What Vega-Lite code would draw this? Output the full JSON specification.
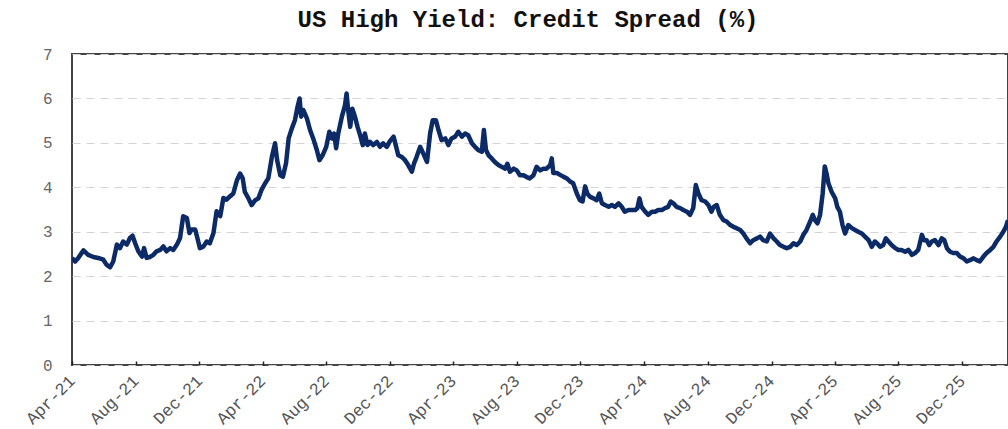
{
  "$schema": "https://vega.github.io/schema/vega-lite/v6.json",
  "width": 936,
  "height": 311,
  "autosize": {"type": "none"},
  "padding": {"left": 72, "top": 54, "right": 0, "bottom": 64},
  "background": "white",
  "title": {
    "text": "US High Yield: Credit Spread (%)",
    "font": "Liberation Mono",
    "fontWeight": "bold",
    "fontSize": 24,
    "color": "#111111",
    "anchor": "middle",
    "dx": -12,
    "offset": 14
  },
  "config": {
    "view": {"stroke": "#444444", "strokeWidth": 2},
    "axis": {"labelFont": "Liberation Mono", "labelColor": "#666666"}
  },
  "data": {"values": [
    {"d":"2021-04-01","v":2.41},{"d":"2021-04-07","v":2.33},{"d":"2021-04-13","v":2.41},{"d":"2021-04-23","v":2.58},
    {"d":"2021-05-02","v":2.48},{"d":"2021-05-12","v":2.43},{"d":"2021-05-21","v":2.41},{"d":"2021-05-31","v":2.37},
    {"d":"2021-06-06","v":2.26},{"d":"2021-06-13","v":2.2},{"d":"2021-06-19","v":2.33},{"d":"2021-06-26","v":2.71},
    {"d":"2021-07-02","v":2.63},{"d":"2021-07-08","v":2.78},{"d":"2021-07-15","v":2.71},{"d":"2021-07-21","v":2.86},
    {"d":"2021-07-26","v":2.91},{"d":"2021-07-31","v":2.74},{"d":"2021-08-06","v":2.56},{"d":"2021-08-13","v":2.44},
    {"d":"2021-08-17","v":2.63},{"d":"2021-08-22","v":2.41},{"d":"2021-08-28","v":2.43},{"d":"2021-09-04","v":2.48},
    {"d":"2021-09-10","v":2.56},{"d":"2021-09-17","v":2.59},{"d":"2021-09-23","v":2.67},{"d":"2021-09-29","v":2.56},
    {"d":"2021-10-06","v":2.63},{"d":"2021-10-12","v":2.59},{"d":"2021-10-19","v":2.71},{"d":"2021-10-25","v":2.86},
    {"d":"2021-10-31","v":3.35},{"d":"2021-11-07","v":3.31},{"d":"2021-11-12","v":2.97},{"d":"2021-11-16","v":3.05},
    {"d":"2021-11-23","v":3.05},{"d":"2021-11-28","v":2.82},{"d":"2021-12-02","v":2.63},{"d":"2021-12-09","v":2.67},
    {"d":"2021-12-15","v":2.78},{"d":"2021-12-21","v":2.74},{"d":"2021-12-28","v":2.97},{"d":"2022-01-03","v":3.46},
    {"d":"2022-01-10","v":3.35},{"d":"2022-01-16","v":3.76},{"d":"2022-01-22","v":3.72},{"d":"2022-01-29","v":3.8},
    {"d":"2022-02-04","v":3.86},{"d":"2022-02-11","v":4.16},{"d":"2022-02-17","v":4.31},{"d":"2022-02-22","v":4.2},
    {"d":"2022-02-26","v":3.9},{"d":"2022-03-05","v":3.75},{"d":"2022-03-11","v":3.6},{"d":"2022-03-18","v":3.71},
    {"d":"2022-03-24","v":3.75},{"d":"2022-03-30","v":3.94},{"d":"2022-04-06","v":4.09},{"d":"2022-04-12","v":4.2},
    {"d":"2022-04-19","v":4.69},{"d":"2022-04-25","v":4.99},{"d":"2022-04-29","v":4.61},{"d":"2022-05-05","v":4.27},
    {"d":"2022-05-10","v":4.24},{"d":"2022-05-16","v":4.54},{"d":"2022-05-21","v":5.1},{"d":"2022-05-27","v":5.32},
    {"d":"2022-06-02","v":5.51},{"d":"2022-06-07","v":5.81},{"d":"2022-06-11","v":6.0},{"d":"2022-06-14","v":5.59},
    {"d":"2022-06-18","v":5.74},{"d":"2022-06-25","v":5.55},{"d":"2022-07-01","v":5.29},{"d":"2022-07-07","v":5.1},
    {"d":"2022-07-14","v":4.84},{"d":"2022-07-19","v":4.61},{"d":"2022-07-25","v":4.72},{"d":"2022-08-01","v":4.91},
    {"d":"2022-08-07","v":5.25},{"d":"2022-08-12","v":5.1},{"d":"2022-08-16","v":5.21},{"d":"2022-08-20","v":4.88},
    {"d":"2022-08-24","v":5.21},{"d":"2022-08-31","v":5.59},{"d":"2022-09-06","v":5.85},{"d":"2022-09-09","v":6.11},
    {"d":"2022-09-12","v":5.74},{"d":"2022-09-16","v":5.36},{"d":"2022-09-20","v":5.77},{"d":"2022-09-25","v":5.59},
    {"d":"2022-09-30","v":5.36},{"d":"2022-10-05","v":5.17},{"d":"2022-10-10","v":4.95},{"d":"2022-10-14","v":5.21},
    {"d":"2022-10-19","v":4.95},{"d":"2022-10-24","v":5.02},{"d":"2022-10-30","v":4.95},{"d":"2022-11-06","v":5.02},
    {"d":"2022-11-12","v":4.91},{"d":"2022-11-18","v":4.99},{"d":"2022-11-25","v":4.91},{"d":"2022-12-01","v":5.04},
    {"d":"2022-12-08","v":5.14},{"d":"2022-12-13","v":4.91},{"d":"2022-12-17","v":4.72},{"d":"2022-12-24","v":4.68},
    {"d":"2022-12-30","v":4.61},{"d":"2023-01-05","v":4.5},{"d":"2023-01-12","v":4.35},{"d":"2023-01-16","v":4.53},
    {"d":"2023-01-21","v":4.68},{"d":"2023-01-28","v":4.91},{"d":"2023-02-03","v":4.76},{"d":"2023-02-10","v":4.57},
    {"d":"2023-02-16","v":5.21},{"d":"2023-02-21","v":5.51},{"d":"2023-02-27","v":5.51},{"d":"2023-03-04","v":5.29},
    {"d":"2023-03-10","v":5.06},{"d":"2023-03-17","v":5.1},{"d":"2023-03-23","v":4.95},{"d":"2023-03-29","v":5.1},
    {"d":"2023-04-05","v":5.14},{"d":"2023-04-11","v":5.25},{"d":"2023-04-18","v":5.14},{"d":"2023-04-24","v":5.21},
    {"d":"2023-04-30","v":5.17},{"d":"2023-05-07","v":4.99},{"d":"2023-05-13","v":4.91},{"d":"2023-05-19","v":4.84},
    {"d":"2023-05-26","v":4.8},{"d":"2023-05-30","v":5.29},{"d":"2023-06-03","v":4.84},{"d":"2023-06-08","v":4.72},
    {"d":"2023-06-14","v":4.65},{"d":"2023-06-20","v":4.57},{"d":"2023-06-27","v":4.5},{"d":"2023-07-03","v":4.46},
    {"d":"2023-07-10","v":4.42},{"d":"2023-07-14","v":4.53},{"d":"2023-07-19","v":4.35},{"d":"2023-07-26","v":4.42},
    {"d":"2023-08-01","v":4.38},{"d":"2023-08-07","v":4.27},{"d":"2023-08-14","v":4.27},{"d":"2023-08-20","v":4.23},
    {"d":"2023-08-26","v":4.2},{"d":"2023-09-02","v":4.27},{"d":"2023-09-08","v":4.46},{"d":"2023-09-15","v":4.38},
    {"d":"2023-09-21","v":4.42},{"d":"2023-09-27","v":4.42},{"d":"2023-10-04","v":4.5},{"d":"2023-10-07","v":4.65},
    {"d":"2023-10-10","v":4.32},{"d":"2023-10-17","v":4.32},{"d":"2023-10-23","v":4.28},{"d":"2023-10-29","v":4.24},
    {"d":"2023-11-05","v":4.2},{"d":"2023-11-11","v":4.13},{"d":"2023-11-17","v":4.09},{"d":"2023-11-24","v":3.86},
    {"d":"2023-11-30","v":3.71},{"d":"2023-12-05","v":3.68},{"d":"2023-12-10","v":4.02},{"d":"2023-12-14","v":3.86},
    {"d":"2023-12-19","v":3.79},{"d":"2023-12-26","v":3.75},{"d":"2024-01-01","v":3.71},{"d":"2024-01-06","v":3.86},
    {"d":"2024-01-11","v":3.64},{"d":"2024-01-17","v":3.6},{"d":"2024-01-24","v":3.56},{"d":"2024-01-30","v":3.6},
    {"d":"2024-02-05","v":3.56},{"d":"2024-02-12","v":3.64},{"d":"2024-02-18","v":3.56},{"d":"2024-02-24","v":3.45},
    {"d":"2024-03-02","v":3.49},{"d":"2024-03-08","v":3.49},{"d":"2024-03-15","v":3.49},{"d":"2024-03-19","v":3.53},
    {"d":"2024-03-23","v":3.75},{"d":"2024-03-27","v":3.56},{"d":"2024-04-03","v":3.45},{"d":"2024-04-09","v":3.38},
    {"d":"2024-04-16","v":3.45},{"d":"2024-04-22","v":3.45},{"d":"2024-04-28","v":3.49},{"d":"2024-05-05","v":3.49},
    {"d":"2024-05-11","v":3.53},{"d":"2024-05-17","v":3.56},{"d":"2024-05-22","v":3.68},{"d":"2024-05-27","v":3.64},
    {"d":"2024-06-02","v":3.56},{"d":"2024-06-09","v":3.53},{"d":"2024-06-15","v":3.49},{"d":"2024-06-22","v":3.45},
    {"d":"2024-06-28","v":3.38},{"d":"2024-07-04","v":3.53},{"d":"2024-07-09","v":4.05},{"d":"2024-07-14","v":3.86},
    {"d":"2024-07-20","v":3.71},{"d":"2024-07-27","v":3.68},{"d":"2024-08-02","v":3.6},{"d":"2024-08-08","v":3.45},
    {"d":"2024-08-12","v":3.56},{"d":"2024-08-18","v":3.6},{"d":"2024-08-24","v":3.38},{"d":"2024-08-31","v":3.26},
    {"d":"2024-09-06","v":3.23},{"d":"2024-09-13","v":3.15},{"d":"2024-09-19","v":3.11},{"d":"2024-09-25","v":3.08},
    {"d":"2024-10-02","v":3.04},{"d":"2024-10-08","v":2.96},{"d":"2024-10-14","v":2.85},{"d":"2024-10-21","v":2.74},
    {"d":"2024-10-27","v":2.81},{"d":"2024-11-03","v":2.85},{"d":"2024-11-09","v":2.89},{"d":"2024-11-15","v":2.81},
    {"d":"2024-11-22","v":2.78},{"d":"2024-11-28","v":2.96},{"d":"2024-12-05","v":2.85},{"d":"2024-12-11","v":2.78},
    {"d":"2024-12-17","v":2.7},{"d":"2024-12-24","v":2.66},{"d":"2024-12-30","v":2.63},{"d":"2025-01-06","v":2.66},
    {"d":"2025-01-12","v":2.74},{"d":"2025-01-18","v":2.7},{"d":"2025-01-25","v":2.78},{"d":"2025-01-31","v":2.93},
    {"d":"2025-02-06","v":3.04},{"d":"2025-02-13","v":3.23},{"d":"2025-02-18","v":3.38},{"d":"2025-02-22","v":3.26},
    {"d":"2025-02-27","v":3.19},{"d":"2025-03-04","v":3.38},{"d":"2025-03-09","v":3.86},{"d":"2025-03-13","v":4.47},
    {"d":"2025-03-17","v":4.28},{"d":"2025-03-20","v":4.09},{"d":"2025-03-26","v":3.9},{"d":"2025-04-02","v":3.75},
    {"d":"2025-04-06","v":3.56},{"d":"2025-04-11","v":3.45},{"d":"2025-04-16","v":3.15},{"d":"2025-04-21","v":2.96},
    {"d":"2025-04-27","v":3.15},{"d":"2025-05-04","v":3.08},{"d":"2025-05-10","v":3.04},{"d":"2025-05-16","v":3.0},
    {"d":"2025-05-23","v":2.96},{"d":"2025-05-29","v":2.89},{"d":"2025-06-05","v":2.81},{"d":"2025-06-11","v":2.66},
    {"d":"2025-06-17","v":2.78},{"d":"2025-06-21","v":2.74},{"d":"2025-06-27","v":2.66},{"d":"2025-07-03","v":2.7},
    {"d":"2025-07-08","v":2.85},{"d":"2025-07-13","v":2.78},{"d":"2025-07-19","v":2.7},{"d":"2025-07-26","v":2.63},
    {"d":"2025-08-01","v":2.59},{"d":"2025-08-07","v":2.59},{"d":"2025-08-14","v":2.55},{"d":"2025-08-20","v":2.59},
    {"d":"2025-08-27","v":2.48},{"d":"2025-09-02","v":2.52},{"d":"2025-09-08","v":2.59},{"d":"2025-09-15","v":2.93},
    {"d":"2025-09-19","v":2.81},{"d":"2025-09-24","v":2.81},{"d":"2025-09-29","v":2.7},{"d":"2025-10-04","v":2.78},
    {"d":"2025-10-10","v":2.81},{"d":"2025-10-17","v":2.7},{"d":"2025-10-23","v":2.85},{"d":"2025-10-28","v":2.81},
    {"d":"2025-11-02","v":2.63},{"d":"2025-11-08","v":2.55},{"d":"2025-11-14","v":2.52},{"d":"2025-11-21","v":2.52},
    {"d":"2025-11-27","v":2.44},{"d":"2025-12-04","v":2.4},{"d":"2025-12-10","v":2.33},{"d":"2025-12-16","v":2.36},
    {"d":"2025-12-23","v":2.4},{"d":"2025-12-29","v":2.36},{"d":"2026-01-04","v":2.33},{"d":"2026-01-11","v":2.44},
    {"d":"2026-01-17","v":2.52},{"d":"2026-01-24","v":2.59},{"d":"2026-01-30","v":2.66},{"d":"2026-02-05","v":2.78},
    {"d":"2026-02-12","v":2.89},{"d":"2026-02-18","v":3.0},{"d":"2026-02-23","v":3.11},{"d":"2026-02-27","v":3.26}
  ]},
  "mark": {"type": "line", "color": "#0b2a66", "strokeWidth": 4.5, "strokeJoin": "round", "clip": true},
  "encoding": {
    "x": {
      "field": "d",
      "type": "temporal",
      "scale": {
        "type": "utc",
        "domain": [{"year": 2021, "month": 4, "date": 1, "utc": true}, {"year": 2026, "month": 2, "date": 27, "utc": true}]
      },
      "axis": {
        "title": null,
        "values": [
          {"year": 2021, "month": 4, "date": 1, "utc": true},
          {"year": 2021, "month": 8, "date": 1, "utc": true},
          {"year": 2021, "month": 12, "date": 1, "utc": true},
          {"year": 2022, "month": 4, "date": 1, "utc": true},
          {"year": 2022, "month": 8, "date": 1, "utc": true},
          {"year": 2022, "month": 12, "date": 1, "utc": true},
          {"year": 2023, "month": 4, "date": 1, "utc": true},
          {"year": 2023, "month": 8, "date": 1, "utc": true},
          {"year": 2023, "month": 12, "date": 1, "utc": true},
          {"year": 2024, "month": 4, "date": 1, "utc": true},
          {"year": 2024, "month": 8, "date": 1, "utc": true},
          {"year": 2024, "month": 12, "date": 1, "utc": true},
          {"year": 2025, "month": 4, "date": 1, "utc": true},
          {"year": 2025, "month": 8, "date": 1, "utc": true},
          {"year": 2025, "month": 12, "date": 1, "utc": true}
        ],
        "labelExpr": "utcFormat(datum.value, '%b-%y')",
        "labelAngle": -45,
        "labelAlign": "right",
        "labelBaseline": "middle",
        "labelFontSize": 17,
        "labelPadding": 17,
        "labelColor": "#555555",
        "labelOverlap": false,
        "labelBound": false,
        "labelFlush": false,
        "grid": false,
        "domain": false,
        "ticks": true,
        "tickSize": -4,
        "tickColor": "#222222",
        "tickWidth": 1.5
      }
    },
    "y": {
      "field": "v",
      "type": "quantitative",
      "scale": {"domain": [0, 7], "nice": false, "zero": true},
      "axis": {
        "title": null,
        "values": [0, 1, 2, 3, 4, 5, 6, 7],
        "labelFontSize": 16,
        "labelPadding": 20,
        "labelColor": "#666666",
        "ticks": false,
        "domain": false,
        "grid": true,
        "gridColor": "#d4d4d4",
        "gridDash": [8, 6],
        "gridWidth": 1.2
      }
    }
  }
}
